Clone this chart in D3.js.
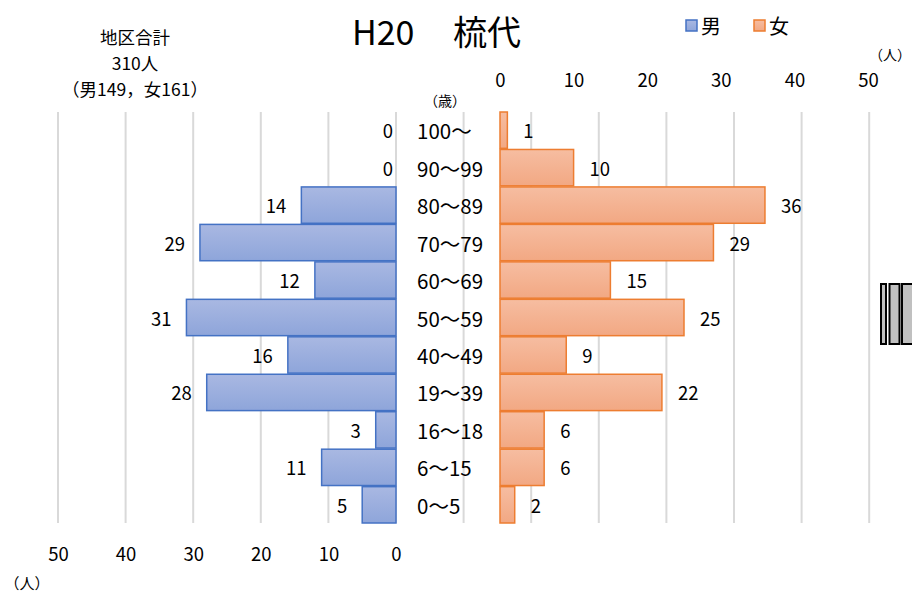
<!DOCTYPE html>
<html><head><meta charset="utf-8">
<script src="https://cdn.jsdelivr.net/npm/d3@7"></script>
<style>
body{margin:0;background:#fff;}
text{font-family:"Noto Sans CJK JP","Noto Sans",sans-serif;fill:#000;}
</style></head>
<body><svg id="c" width="912" height="598"></svg>
<script>
const categories = ["100～","90～99","80～89","70～79","60～69","50～59","40～49","19～39","16～18","6～15","0～5"];
const male = [0,0,14,29,12,31,16,28,3,11,5];
const female = [1,10,36,29,15,25,9,22,6,6,2];
const ticks = [0,10,20,30,40,50];
const gridValues = [50,40,30,20,10,0,-10,-20,-30,-40,-50,-60,-70];
const titleParts = ["H20　","梳代"];
const summary = ["地区合計","310人","（男149，女161）"];
const seriesNames = ["男","女"];

const svg = d3.select("#c");
const defs = svg.append("defs");
function grad(id, c1, c2){
  const g = defs.append("linearGradient").attr("id",id).attr("x1",0).attr("y1",0).attr("x2",0).attr("y2",1);
  g.append("stop").attr("offset","0%").attr("stop-color",c1);
  g.append("stop").attr("offset","100%").attr("stop-color",c2);
}
grad("gm","#a9b8e2","#8ea5da");
grad("gf","#f6bda1","#f2a883");

const xL = d3.scaleLinear().domain([50,0]).range([58,396]);
const xR = d3.scaleLinear().domain([0,50]).range([500,868]);
const y = d3.scaleBand().domain(categories).range([112,523]).paddingInner(0.03).paddingOuter(0);

// gridlines
svg.append("g").selectAll("line").data(gridValues).join("line")
  .attr("x1",d=>xL(d)).attr("x2",d=>xL(d)).attr("y1",112).attr("y2",523)
  .attr("stroke","#d9d9d9").attr("stroke-width",2);

// male bars
svg.append("g").selectAll("rect").data(male).join("rect")
  .attr("x",d=>xL(d)).attr("y",(d,i)=>y(categories[i]))
  .attr("width",d=>xL(0)-xL(d)).attr("height",y.bandwidth())
  .attr("fill","url(#gm)").attr("stroke","#4472c4").attr("stroke-width",1.5)
  .attr("display",d=>d>0?null:"none");
// female bars
svg.append("g").selectAll("rect").data(female).join("rect")
  .attr("x",xR(0)).attr("y",(d,i)=>y(categories[i]))
  .attr("width",d=>xR(d)-xR(0)).attr("height",y.bandwidth())
  .attr("fill","url(#gf)").attr("stroke","#ed7d31").attr("stroke-width",1.5);

// male labels
svg.append("g").selectAll("text").data(male).join("text")
  .attr("x",d=>d>0?xL(d)-15:xL(0)-3).attr("y",(d,i)=>y(categories[i])+y.bandwidth()/2)
  .attr("text-anchor","end").attr("dominant-baseline","central").attr("font-size",18.5).text(d=>d);
// female labels
svg.append("g").selectAll("text").data(female).join("text")
  .attr("x",d=>xR(d)+16).attr("y",(d,i)=>y(categories[i])+y.bandwidth()/2)
  .attr("text-anchor","start").attr("dominant-baseline","central").attr("font-size",18.5).text(d=>d);

// category labels
svg.append("g").selectAll("text").data(categories).join("text")
  .attr("x",417).attr("y",d=>y(d)+y.bandwidth()/2)
  .attr("dominant-baseline","central").attr("font-size",20.5).text(d=>d);
svg.append("text").attr("x",445).attr("y",100).attr("text-anchor","middle").attr("dominant-baseline","central")
  .attr("font-size",14).attr("fill","#333").text("（歳）");

// axes tick labels
const axL = svg.append("g").attr("transform","translate(0,545)")
  .call(d3.axisBottom(xL).tickValues(ticks).tickSize(0).tickPadding(3));
axL.select(".domain").remove();
axL.selectAll("text").attr("font-size",18.5).attr("font-family",null).attr("fill","#000");
const axR = svg.append("g").attr("transform","translate(0,90)")
  .call(d3.axisTop(xR).tickValues(ticks).tickSize(0).tickPadding(3));
axR.select(".domain").remove();
axR.selectAll("text").attr("font-size",18.5).attr("font-family",null).attr("fill","#000");
svg.append("text").attr("x",27).attr("y",582).attr("text-anchor","middle").attr("dominant-baseline","central")
  .attr("font-size",15).attr("fill","#333").text("（人）");
svg.append("text").attr("x",911).attr("y",54).attr("text-anchor","end").attr("dominant-baseline","central")
  .attr("font-size",14).attr("fill","#333").text("（人）");

// title
const tt = svg.append("text").attr("y",30).attr("dominant-baseline","central").attr("font-size",34);
tt.append("tspan").attr("x",352).text(titleParts[0]);
tt.append("tspan").attr("x",453).text(titleParts[1]);

// summary text
svg.append("g").selectAll("text").data(summary).join("text")
  .attr("x",135).attr("y",(d,i)=>36+i*26).attr("text-anchor","middle").attr("dominant-baseline","central")
  .attr("font-size",17.5).text(d=>d);

// legend
const lg = svg.append("g");
const lx = [686,754];
const lcol = [["url(#gm)","#4472c4"],["url(#gf)","#ed7d31"]];
seriesNames.forEach((s,i)=>{
  lg.append("rect").attr("x",lx[i]).attr("y",20).attr("width",11).attr("height",11)
    .attr("fill",lcol[i][0]).attr("stroke",lcol[i][1]).attr("stroke-width",1.5);
  lg.append("text").attr("x",lx[i]+15).attr("y",25).attr("dominant-baseline","central")
    .attr("font-size",20).text(s);
});

// tofu-like boxes on right edge
const boxes = [[881,5],[889.5,10],[902,12]];
svg.append("g").selectAll("rect").data(boxes).join("rect")
  .attr("x",d=>d[0]).attr("y",284).attr("width",d=>d[1]).attr("height",60)
  .attr("fill","#c0c0c0").attr("stroke","#000").attr("stroke-width",2);
</script></body></html>
